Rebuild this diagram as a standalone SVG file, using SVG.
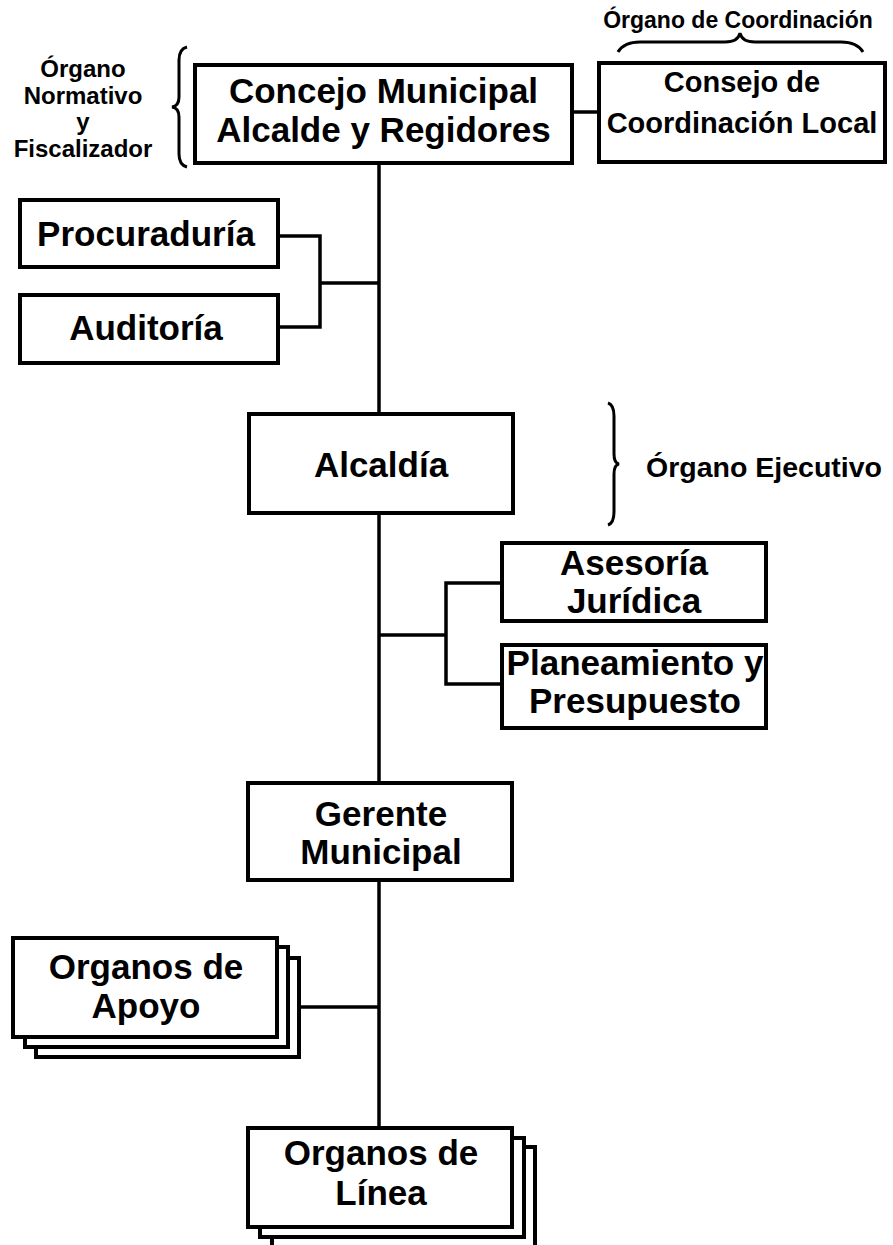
<svg xmlns="http://www.w3.org/2000/svg" width="893" height="1245" viewBox="0 0 893 1245">
<style>
.box{fill:#fff;stroke:#000;stroke-width:4}
.ln{fill:none;stroke:#000;stroke-width:3.5}
.br{fill:none;stroke:#000;stroke-width:3}
text{font-family:"Liberation Sans",Arial,sans-serif;font-weight:bold;fill:#000;text-anchor:middle}
.t{font-size:35px}
.s{font-size:23px}
.l{font-size:24px}
</style>
<rect width="893" height="1245" fill="#fff"/>
<g id="connectors">
<line class="ln" x1="379" y1="163" x2="379" y2="414"/>
<line class="ln" x1="379" y1="513" x2="379" y2="783"/>
<line class="ln" x1="379" y1="880" x2="379" y2="1128"/>
<line class="ln" x1="572" y1="112" x2="599" y2="112"/>
<polyline class="ln" points="278,236 320,236 320,327 278,327"/>
<line class="ln" x1="320" y1="283" x2="379" y2="283"/>
<line class="ln" x1="379" y1="635" x2="446" y2="635"/>
<polyline class="ln" points="502,583 446,583 446,684 502,684"/>
<line class="ln" x1="300" y1="1007" x2="379" y2="1007"/>
</g>
<g id="brace-normativo">
<path class="br" d="M187,47 Q179,49 179,60 L179,97 Q179,106 172,107 Q179,108 179,117 L179,154 Q179,165 187,167"/>
<text class="l" x="83" y="77">Órgano</text>
<text class="l" x="83" y="104">Normativo</text>
<text class="l" x="83" y="130">y</text>
<text class="l" x="83" y="157">Fiscalizador</text>
</g>
<g id="brace-coordinacion">
<path class="br" d="M618,52 Q624,42 640,42 L725,42 Q738,42 740,33 Q742,42 755,42 L841,42 Q857,42 863,52"/>
<text class="s" x="738" y="28">Órgano de Coordinación</text>
</g>
<g id="brace-ejecutivo">
<path class="br" d="M608,403 Q614,405 614,416 L614,454 Q614,463 619,464 Q614,465 614,474 L614,512 Q614,523 608,525"/>
<text x="764" y="477" style="font-size:28.5px">Órgano Ejecutivo</text>
</g>
<g id="concejo">
<rect class="box" x="195" y="65" width="377" height="98"/>
<text class="t" x="383.5" y="103">Concejo Municipal</text>
<text class="t" x="383.5" y="142">Alcalde y Regidores</text>
</g>
<g id="consejo">
<rect class="box" x="599" y="63" width="286" height="99"/>
<text x="742" y="92" style="font-size:29px">Consejo de</text>
<text x="742" y="133" style="font-size:29px">Coordinación Local</text>
</g>
<g id="procuraduria">
<rect class="box" x="20" y="200" width="258" height="67"/>
<text class="t" x="146" y="246">Procuraduría</text>
</g>
<g id="auditoria">
<rect class="box" x="20" y="295" width="258" height="68"/>
<text class="t" x="146" y="340">Auditoría</text>
</g>
<g id="alcaldia">
<rect class="box" x="249" y="414" width="264" height="99"/>
<text class="t" x="381" y="477">Alcaldía</text>
</g>
<g id="asesoria">
<rect class="box" x="502" y="543" width="264" height="78"/>
<text class="t" x="634" y="575">Asesoría</text>
<text class="t" x="634" y="613">Jurídica</text>
</g>
<g id="planeamiento">
<rect class="box" x="502" y="645" width="264" height="83"/>
<text class="t" x="635" y="675">Planeamiento y</text>
<text class="t" x="635" y="713">Presupuesto</text>
</g>
<g id="gerente">
<rect class="box" x="248" y="783" width="264" height="97"/>
<text class="t" x="381" y="826">Gerente</text>
<text class="t" x="381" y="864">Municipal</text>
</g>
<g id="apoyo">
<rect class="box" x="36" y="958" width="263" height="99"/>
<rect class="box" x="25" y="947" width="263" height="100"/>
<rect class="box" x="13" y="938" width="264" height="99"/>
<text class="t" x="146" y="979">Organos de</text>
<text class="t" x="146" y="1018">Apoyo</text>
</g>
<g id="linea">
<rect class="box" x="272" y="1147" width="263" height="110"/>
<rect class="box" x="260" y="1138" width="264" height="99"/>
<rect class="box" x="248" y="1128" width="264" height="99"/>
<text class="t" x="381" y="1165">Organos de</text>
<text class="t" x="381" y="1205">Línea</text>
</g>
</svg>
